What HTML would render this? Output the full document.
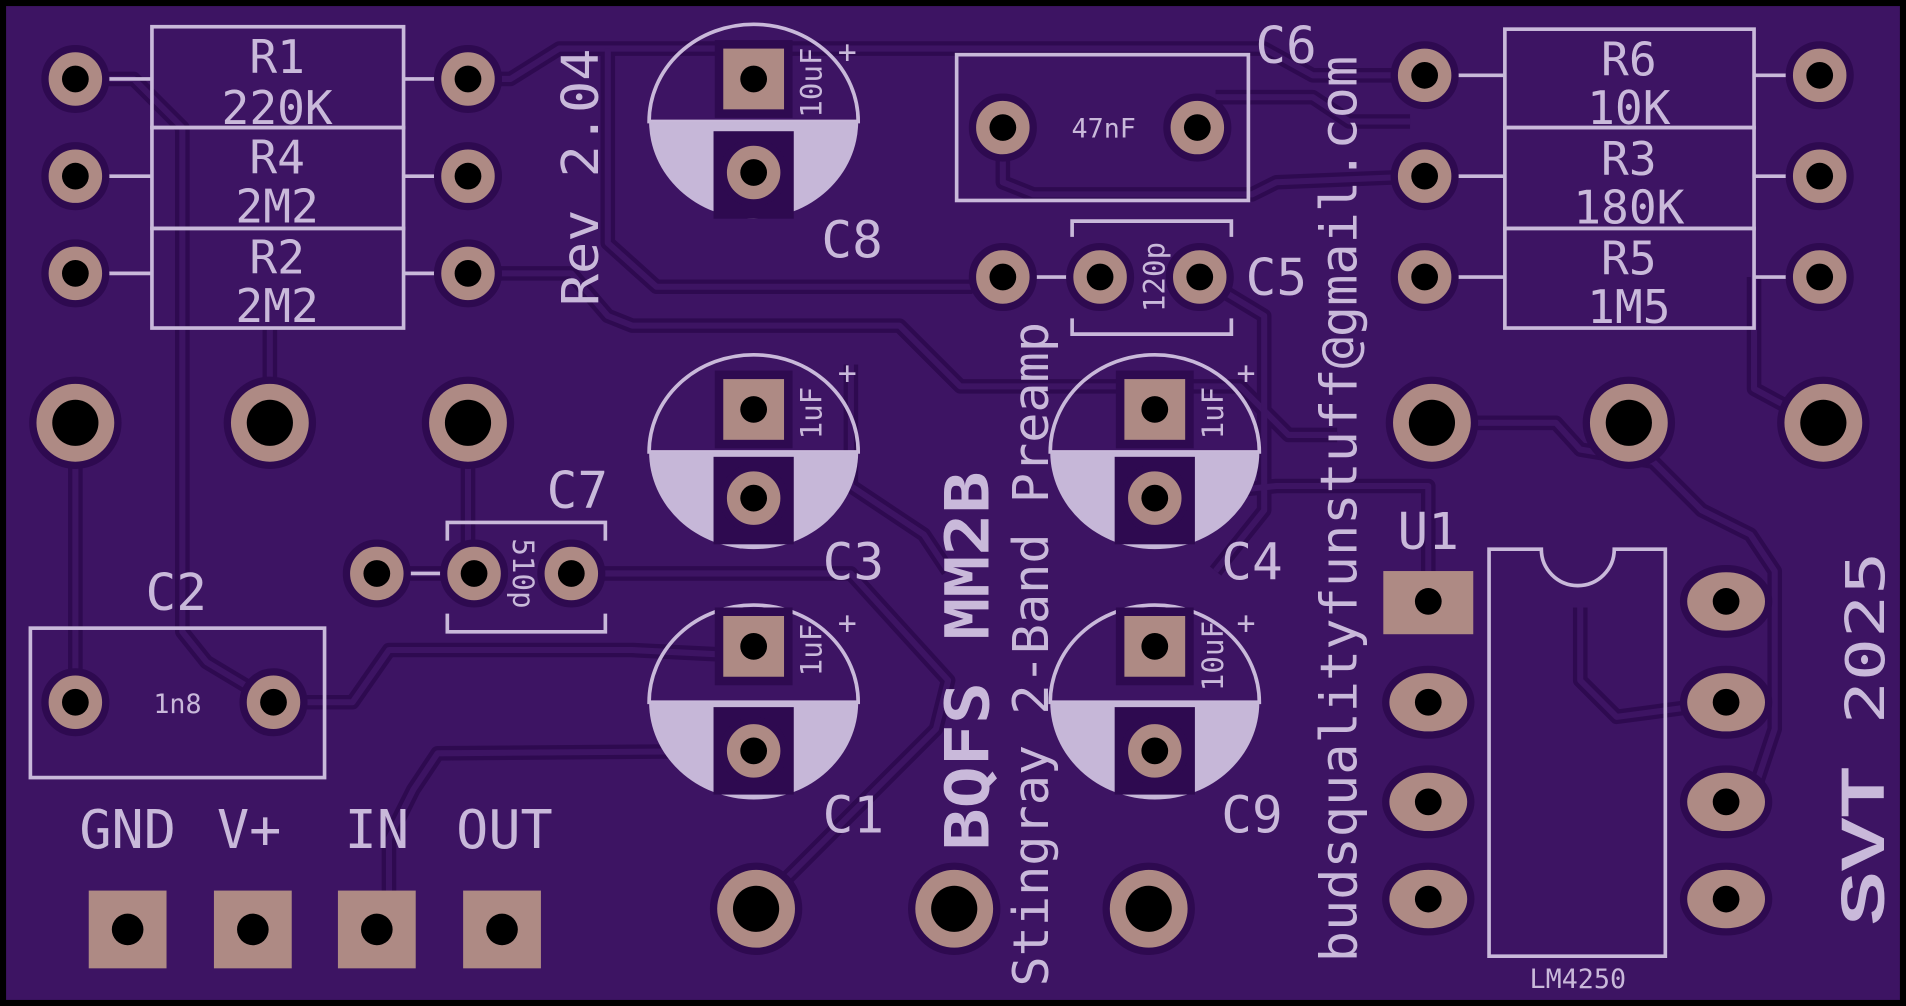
<!DOCTYPE html>
<html><head><meta charset="utf-8"><style>
html,body{margin:0;padding:0;background:#000;overflow:hidden}
svg{display:block}
text{font-family:"DejaVu Sans Mono","Liberation Mono",monospace;fill:#c9b9da}
</style></head><body>
<svg width="1906" height="1006" viewBox="0 0 1568 828" preserveAspectRatio="none" xmlns="http://www.w3.org/2000/svg">
<rect x="0" y="0" width="1568" height="828" fill="#000"/>
<rect x="5" y="5" width="1558" height="818" fill="#3d1463"/>
<defs>
<g id="tr">
<polyline points="62,65 110,65 150,105 150,520 170,545 225,578"/>
<polyline points="385,65 420,65 460,40 1040,40 1080,62 1172,62"/>
<polyline points="385,225 470,225 500,260 520,268 740,268 790,318 1020,318 1060,358 1100,358"/>
<polyline points="222,270 222,348"/>
<polyline points="62,348 62,578"/>
<polyline points="385,348 385,472 310,472"/>
<polyline points="470,472 700,472 780,560 770,600 622,748"/>
<polyline points="225,578 290,578 320,535 520,535 620,540"/>
<polyline points="320,740 320,690 340,650 360,620 620,618"/>
<polyline points="825,105 825,150 850,160 1030,160 1050,150 1172,145"/>
<polyline points="987,228 1040,260 1040,420 1000,470"/>
<polyline points="1178,348 1280,348 1300,370 1360,380 1400,420 1440,440 1460,470 1460,600 1440,660 1420,660"/>
<polyline points="1443,228 1443,320 1480,340 1500,348"/>
<polyline points="950,410 1050,400 1120,400 1175,400 1175,495"/>
<polyline points="1300,500 1300,560 1330,590 1420,578"/>
<polyline points="700,300 700,400 760,440 780,470"/>
<polyline points="1000,80 1080,80 1110,100 1160,100"/>
<polyline points="500,40 500,200 540,236 800,236"/>
</g>
</defs>
<use href="#tr" fill="none" stroke="#2e0a50" stroke-width="12" stroke-linejoin="round"/>
<use href="#tr" fill="none" stroke="#3d1463" stroke-width="5" stroke-linejoin="round"/>
<!-- silkscreen -->
<g fill="none" stroke="#c9b9da" stroke-width="3">
<rect x="125" y="22" width="207" height="83"/><rect x="125" y="105" width="207" height="83"/><rect x="125" y="188" width="207" height="82"/>
<line x1="86" y1="65" x2="125" y2="65"/><line x1="332" y1="65" x2="361" y2="65"/>
<line x1="86" y1="145" x2="125" y2="145"/><line x1="332" y1="145" x2="361" y2="145"/>
<line x1="86" y1="225" x2="125" y2="225"/><line x1="332" y1="225" x2="361" y2="225"/>
<rect x="1238" y="24" width="205" height="81"/><rect x="1238" y="105" width="205" height="83"/><rect x="1238" y="188" width="205" height="82"/>
<line x1="1196" y1="62" x2="1238" y2="62"/><line x1="1443" y1="62" x2="1473" y2="62"/>
<line x1="1196" y1="145" x2="1238" y2="145"/><line x1="1443" y1="145" x2="1473" y2="145"/>
<line x1="1196" y1="228" x2="1238" y2="228"/><line x1="1443" y1="228" x2="1473" y2="228"/>
<rect x="787" y="45" width="240" height="120"/>
<path d="M882,195 V182 H1013 V195 M882,262 V275 H1013 V262"/>
<path d="M368,445 V430 H498 V445 M368,505 V520 H498 V505"/>
<rect x="25" y="517" width="242" height="123"/>
<path d="M1225,787 V452 H1268 A30,30 0 0 0 1328,452 H1370 V787 Z"/>
<line x1="848" y1="228" x2="881" y2="228"/>
<line x1="333" y1="472" x2="366" y2="472"/>
</g>
<!-- electrolytic caps -->
<g>
<g transform="translate(620,100)"><path d="M-86,0 A86,80 0 0 1 86,0 Z" fill="none" stroke="#c9b9da" stroke-width="3"/><path d="M-86,0 A86,80 0 0 0 86,0 Z" fill="#c6b7d8"/></g>
<g transform="translate(620,372)"><path d="M-86,0 A86,80 0 0 1 86,0 Z" fill="none" stroke="#c9b9da" stroke-width="3"/><path d="M-86,0 A86,80 0 0 0 86,0 Z" fill="#c6b7d8"/></g>
<g transform="translate(620,578)"><path d="M-86,0 A86,80 0 0 1 86,0 Z" fill="none" stroke="#c9b9da" stroke-width="3"/><path d="M-86,0 A86,80 0 0 0 86,0 Z" fill="#c6b7d8"/></g>
<g transform="translate(950,372)"><path d="M-86,0 A86,80 0 0 1 86,0 Z" fill="none" stroke="#c9b9da" stroke-width="3"/><path d="M-86,0 A86,80 0 0 0 86,0 Z" fill="#c6b7d8"/></g>
<g transform="translate(950,578)"><path d="M-86,0 A86,80 0 0 1 86,0 Z" fill="none" stroke="#c9b9da" stroke-width="3"/><path d="M-86,0 A86,80 0 0 0 86,0 Z" fill="#c6b7d8"/></g>
</g>
<g fill="#2e0a50">
<rect x="588" y="33" width="64" height="64"/><rect x="587" y="108" width="66" height="72"/>
<rect x="588" y="305" width="64" height="64"/><rect x="587" y="376" width="66" height="72"/>
<rect x="588" y="500" width="64" height="64"/><rect x="587" y="582" width="66" height="72"/>
<rect x="918" y="305" width="64" height="64"/><rect x="917" y="376" width="66" height="72"/>
<rect x="918" y="500" width="64" height="64"/><rect x="917" y="582" width="66" height="72"/>
</g>
<g fill="#ae8a84">
<rect x="595" y="40" width="50" height="50"/><rect x="595" y="312" width="50" height="50"/><rect x="595" y="507" width="50" height="50"/>
<rect x="925" y="312" width="50" height="50"/><rect x="925" y="507" width="50" height="50"/>
<rect x="1138" y="470" width="74" height="52"/>
<rect x="73" y="733" width="64" height="64"/><rect x="176" y="733" width="64" height="64"/><rect x="278" y="733" width="64" height="64"/><rect x="381" y="733" width="64" height="64"/>
</g>
<g fill="#ae8a84" stroke="#2e0a50" stroke-width="6">
<circle cx="62" cy="65" r="25"/><circle cx="385" cy="65" r="25"/>
<circle cx="62" cy="145" r="25"/><circle cx="385" cy="145" r="25"/>
<circle cx="62" cy="225" r="25"/><circle cx="385" cy="225" r="25"/>
<circle cx="1172" cy="62" r="25"/><circle cx="1497" cy="62" r="25"/>
<circle cx="1172" cy="145" r="25"/><circle cx="1497" cy="145" r="25"/>
<circle cx="1172" cy="228" r="25"/><circle cx="1497" cy="228" r="25"/>
<circle cx="620" cy="142" r="25"/><circle cx="620" cy="410" r="25"/><circle cx="620" cy="618" r="25"/>
<circle cx="950" cy="410" r="25"/><circle cx="950" cy="618" r="25"/>
<circle cx="825" cy="105" r="25"/><circle cx="985" cy="105" r="25"/>
<circle cx="825" cy="228" r="25"/><circle cx="905" cy="228" r="25"/><circle cx="987" cy="228" r="25"/>
<circle cx="310" cy="472" r="25"/><circle cx="390" cy="472" r="25"/><circle cx="470" cy="472" r="25"/>
<circle cx="62" cy="578" r="25"/><circle cx="225" cy="578" r="25"/>
<circle cx="62" cy="348" r="35"/><circle cx="222" cy="348" r="35"/><circle cx="385" cy="348" r="35"/>
<circle cx="1178" cy="348" r="35"/><circle cx="1340" cy="348" r="35"/><circle cx="1500" cy="348" r="35"/>
<circle cx="622" cy="748" r="35"/><circle cx="785" cy="748" r="35"/><circle cx="945" cy="748" r="35"/>
<ellipse cx="1175" cy="578" rx="35" ry="27"/><ellipse cx="1175" cy="660" rx="35" ry="27"/><ellipse cx="1175" cy="740" rx="35" ry="27"/>
<ellipse cx="1420" cy="495" rx="35" ry="27"/><ellipse cx="1420" cy="578" rx="35" ry="27"/><ellipse cx="1420" cy="660" rx="35" ry="27"/><ellipse cx="1420" cy="740" rx="35" ry="27"/>
</g>
<g fill="#000">
<circle cx="62" cy="65" r="11"/><circle cx="385" cy="65" r="11"/><circle cx="62" cy="145" r="11"/><circle cx="385" cy="145" r="11"/><circle cx="62" cy="225" r="11"/><circle cx="385" cy="225" r="11"/>
<circle cx="1172" cy="62" r="11"/><circle cx="1497" cy="62" r="11"/><circle cx="1172" cy="145" r="11"/><circle cx="1497" cy="145" r="11"/><circle cx="1172" cy="228" r="11"/><circle cx="1497" cy="228" r="11"/>
<circle cx="620" cy="65" r="11"/><circle cx="620" cy="142" r="11"/><circle cx="620" cy="337" r="11"/><circle cx="620" cy="410" r="11"/><circle cx="620" cy="532" r="11"/><circle cx="620" cy="618" r="11"/>
<circle cx="950" cy="337" r="11"/><circle cx="950" cy="410" r="11"/><circle cx="950" cy="532" r="11"/><circle cx="950" cy="618" r="11"/>
<circle cx="825" cy="105" r="11"/><circle cx="985" cy="105" r="11"/><circle cx="825" cy="228" r="11"/><circle cx="905" cy="228" r="11"/><circle cx="987" cy="228" r="11"/>
<circle cx="310" cy="472" r="11"/><circle cx="390" cy="472" r="11"/><circle cx="470" cy="472" r="11"/>
<circle cx="62" cy="578" r="11"/><circle cx="225" cy="578" r="11"/>
<circle cx="62" cy="348" r="19"/><circle cx="222" cy="348" r="19"/><circle cx="385" cy="348" r="19"/>
<circle cx="1178" cy="348" r="19"/><circle cx="1340" cy="348" r="19"/><circle cx="1500" cy="348" r="19"/>
<circle cx="622" cy="748" r="19"/><circle cx="785" cy="748" r="19"/><circle cx="945" cy="748" r="19"/>
<circle cx="1175" cy="495" r="11"/><circle cx="1175" cy="578" r="11"/><circle cx="1175" cy="660" r="11"/><circle cx="1175" cy="740" r="11"/>
<circle cx="1420" cy="495" r="11"/><circle cx="1420" cy="578" r="11"/><circle cx="1420" cy="660" r="11"/><circle cx="1420" cy="740" r="11"/>
<circle cx="105" cy="765" r="13"/><circle cx="208" cy="765" r="13"/><circle cx="310" cy="765" r="13"/><circle cx="413" cy="765" r="13"/>
</g>
<!-- labels -->
<g font-size="38" text-anchor="middle">
<text x="228" y="60">R1</text><text x="228" y="102">220K</text>
<text x="228" y="143">R4</text><text x="228" y="183">2M2</text>
<text x="228" y="225">R2</text><text x="228" y="265">2M2</text>
<text x="1340" y="62">R6</text><text x="1340" y="102">10K</text>
<text x="1340" y="144">R3</text><text x="1340" y="184">180K</text>
<text x="1340" y="226">R5</text><text x="1340" y="266">1M5</text>
</g>
<g font-size="42" text-anchor="middle">
<text x="701" y="212">C8</text><text x="702" y="477">C3</text><text x="702" y="685">C1</text>
<text x="1030" y="477">C4</text><text x="1030" y="685">C9</text>
<text x="1058" y="52">C6</text><text x="1050" y="243">C5</text><text x="475" y="418">C7</text>
<text x="145" y="502">C2</text><text x="1175" y="452">U1</text>
</g>
<g font-size="44" text-anchor="middle">
<text x="105" y="698">GND</text><text x="205" y="698">V+</text><text x="310" y="698">IN</text><text x="415" y="698">OUT</text>
</g>
<g font-size="22" text-anchor="middle">
<text x="908" y="113">47nF</text><text x="146" y="587">1n8</text><text x="1298" y="813">LM4250</text>
</g>
<g font-size="26" text-anchor="middle">
<text x="697" y="52">+</text><text x="697" y="316">+</text><text x="697" y="522">+</text><text x="1025" y="316">+</text><text x="1025" y="522">+</text>
</g>
<g font-size="24" text-anchor="middle">
<text transform="translate(668,68) rotate(-90)" dy="8">10uF</text>
<text transform="translate(668,340) rotate(-90)" dy="8">1uF</text>
<text transform="translate(668,535) rotate(-90)" dy="8">1uF</text>
<text transform="translate(998,340) rotate(-90)" dy="8">1uF</text>
<text transform="translate(998,540) rotate(-90)" dy="8">10uF</text>
<text transform="translate(950,228) rotate(-90)" dy="8">120p</text>
<text transform="translate(430,472) rotate(90)" dy="8">510p</text>
</g>
<text transform="translate(492,252) rotate(-90)" font-size="42" textLength="212" lengthAdjust="spacingAndGlyphs">Rev 2.04</text>
<text transform="translate(862,812) rotate(-90)" font-size="40" textLength="547" lengthAdjust="spacingAndGlyphs">Stingray 2-Band Preamp</text>
<text transform="translate(1116,792) rotate(-90)" font-size="42" textLength="746" lengthAdjust="spacingAndGlyphs">budsqualityfunstuff@gmail.com</text>
<text transform="translate(813,700) rotate(-90)" font-weight="bold" font-size="50" textLength="312" lengthAdjust="spacingAndGlyphs">BQFS MM2B</text>
<text transform="translate(1550,762) rotate(-90)" font-size="44" textLength="308" lengthAdjust="spacingAndGlyphs"><tspan font-weight="bold" font-family="Liberation Sans, sans-serif" font-size="50">SVT</tspan> 2025</text>
</svg>
</body></html>
